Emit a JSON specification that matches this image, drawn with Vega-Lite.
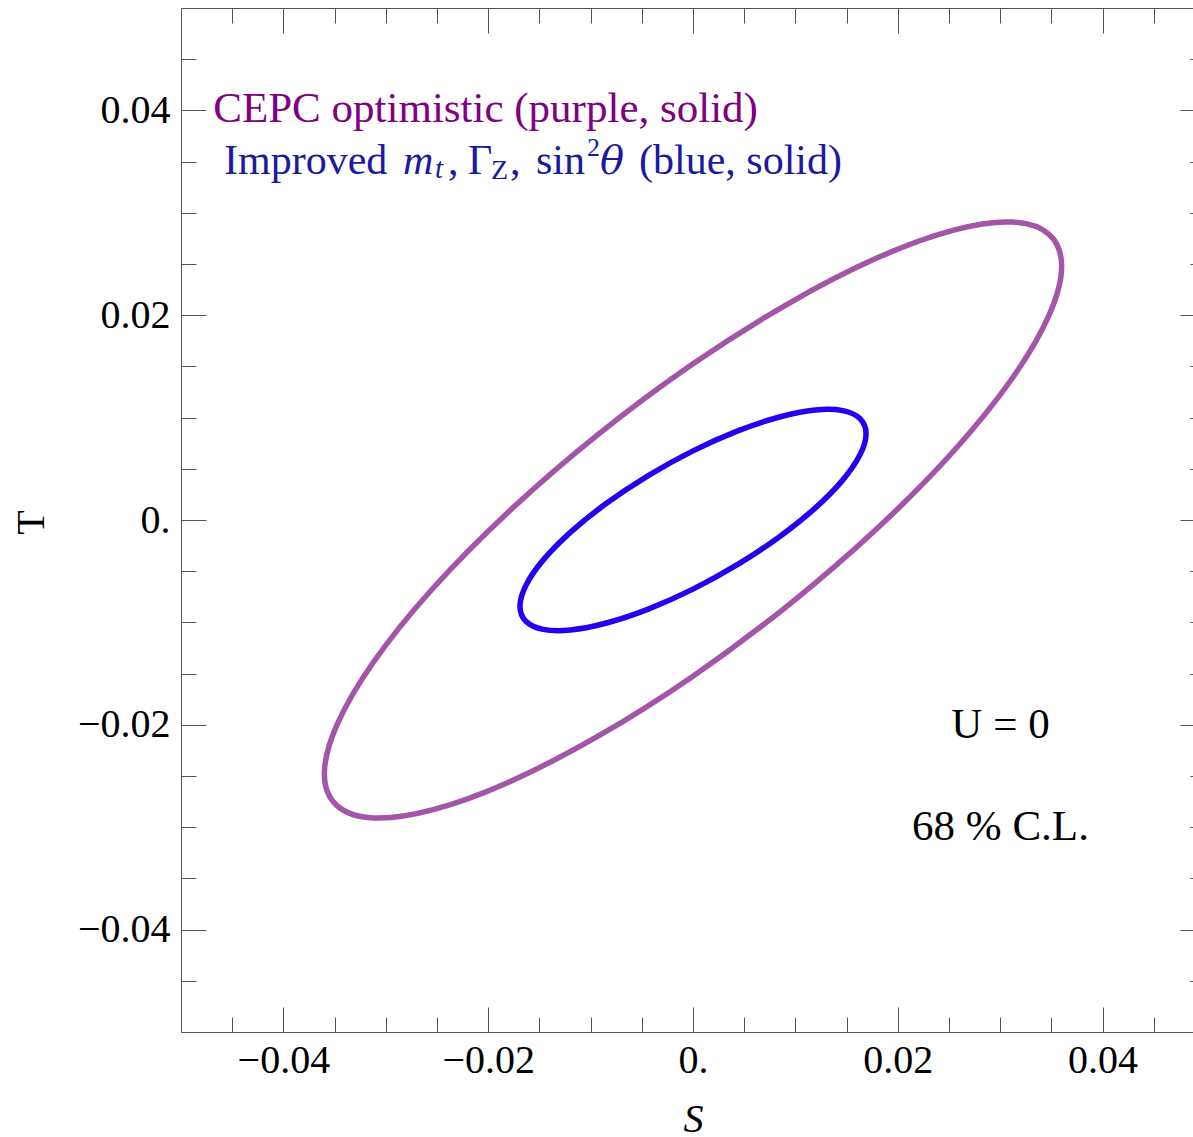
{
  "$schema": "https://vega.github.io/schema/vega-lite/v6.json",
  "width": 1012,
  "height": 1024,
  "autosize": {"type": "none"},
  "padding": {"left": 181, "top": 8, "right": 0, "bottom": 105},
  "background": "white",
  "config": {"view": {"stroke": null}, "font": "Liberation Serif"},
  "datasets": {
    "ellipses": [
      {"curve": "CEPC", "i": 0, "S": 0.036, "T": 0.02478},
      {"curve": "CEPC", "i": 1, "S": 0.03477, "T": 0.02789},
      {"curve": "CEPC", "i": 2, "S": 0.03118, "T": 0.02909},
      {"curve": "CEPC", "i": 3, "S": 0.02546, "T": 0.02831},
      {"curve": "CEPC", "i": 4, "S": 0.018, "T": 0.0256},
      {"curve": "CEPC", "i": 5, "S": 0.00932, "T": 0.02114},
      {"curve": "CEPC", "i": 6, "S": 0, "T": 0.01525},
      {"curve": "CEPC", "i": 7, "S": -0.00932, "T": 0.00831},
      {"curve": "CEPC", "i": 8, "S": -0.018, "T": 0.00081},
      {"curve": "CEPC", "i": 9, "S": -0.02546, "T": -0.00674},
      {"curve": "CEPC", "i": 10, "S": -0.03118, "T": -0.01384},
      {"curve": "CEPC", "i": 11, "S": -0.03477, "T": -0.02},
      {"curve": "CEPC", "i": 12, "S": -0.036, "T": -0.02478},
      {"curve": "CEPC", "i": 13, "S": -0.03477, "T": -0.02789},
      {"curve": "CEPC", "i": 14, "S": -0.03118, "T": -0.02909},
      {"curve": "CEPC", "i": 15, "S": -0.02546, "T": -0.02831},
      {"curve": "CEPC", "i": 16, "S": -0.018, "T": -0.0256},
      {"curve": "CEPC", "i": 17, "S": -0.00932, "T": -0.02114},
      {"curve": "CEPC", "i": 18, "S": 0, "T": -0.01525},
      {"curve": "CEPC", "i": 19, "S": 0.00932, "T": -0.00831},
      {"curve": "CEPC", "i": 20, "S": 0.018, "T": -0.00081},
      {"curve": "CEPC", "i": 21, "S": 0.02546, "T": 0.00674},
      {"curve": "CEPC", "i": 22, "S": 0.03118, "T": 0.01384},
      {"curve": "CEPC", "i": 23, "S": 0.03477, "T": 0.02},
      {"curve": "Improved", "i": 0, "S": 0.0169, "T": 0.00843},
      {"curve": "Improved", "i": 1, "S": 0.01632, "T": 0.00989},
      {"curve": "Improved", "i": 2, "S": 0.01464, "T": 0.01068},
      {"curve": "Improved", "i": 3, "S": 0.01195, "T": 0.01074},
      {"curve": "Improved", "i": 4, "S": 0.00845, "T": 0.01006},
      {"curve": "Improved", "i": 5, "S": 0.00437, "T": 0.0087},
      {"curve": "Improved", "i": 6, "S": 0, "T": 0.00675},
      {"curve": "Improved", "i": 7, "S": -0.00437, "T": 0.00434},
      {"curve": "Improved", "i": 8, "S": -0.00845, "T": 0.00163},
      {"curve": "Improved", "i": 9, "S": -0.01195, "T": -0.00118},
      {"curve": "Improved", "i": 10, "S": -0.01464, "T": -0.00392},
      {"curve": "Improved", "i": 11, "S": -0.01632, "T": -0.00639},
      {"curve": "Improved", "i": 12, "S": -0.0169, "T": -0.00843},
      {"curve": "Improved", "i": 13, "S": -0.01632, "T": -0.00989},
      {"curve": "Improved", "i": 14, "S": -0.01464, "T": -0.01068},
      {"curve": "Improved", "i": 15, "S": -0.01195, "T": -0.01074},
      {"curve": "Improved", "i": 16, "S": -0.00845, "T": -0.01006},
      {"curve": "Improved", "i": 17, "S": -0.00437, "T": -0.0087},
      {"curve": "Improved", "i": 18, "S": 0, "T": -0.00675},
      {"curve": "Improved", "i": 19, "S": 0.00437, "T": -0.00434},
      {"curve": "Improved", "i": 20, "S": 0.00845, "T": -0.00163},
      {"curve": "Improved", "i": 21, "S": 0.01195, "T": 0.00118},
      {"curve": "Improved", "i": 22, "S": 0.01464, "T": 0.00392},
      {"curve": "Improved", "i": 23, "S": 0.01632, "T": 0.00639}
    ],
    "notes": [
      {"id": "cepc", "text": "CEPC optimistic (purple, solid)", "S": -0.04685, "T": 0.0389},
      {"id": "improved", "text": "Improved", "S": -0.0458, "T": 0.0338},
      {"id": "m", "text": "m", "S": -0.0458, "T": 0.0338},
      {"id": "t", "text": "t", "S": -0.0458, "T": 0.0338},
      {"id": "comma1", "text": ",", "S": -0.0458, "T": 0.0338},
      {"id": "gamma", "text": "Γ", "S": -0.0458, "T": 0.0338},
      {"id": "Z", "text": "Z", "S": -0.0458, "T": 0.0338},
      {"id": "comma2", "text": ",", "S": -0.0458, "T": 0.0338},
      {"id": "sin", "text": "sin", "S": -0.0458, "T": 0.0338},
      {"id": "two", "text": "2", "S": -0.0458, "T": 0.0338},
      {"id": "theta", "text": "θ", "S": -0.0458, "T": 0.0338},
      {"id": "blue", "text": "(blue, solid)", "S": -0.0458, "T": 0.0338},
      {"id": "u", "text": "U = 0", "S": 0.03003, "T": -0.02132},
      {"id": "cl", "text": "68 % C.L.", "S": 0.03003, "T": -0.03125}
    ]
  },
  "layer": [
    {
      "data": {"name": "ellipses"},
      "transform": [{"filter": "datum.curve == 'CEPC'"}],
      "mark": {"type": "line", "interpolate": "cardinal-closed", "color": "#a355a8", "strokeWidth": 5.5, "strokeCap": "round", "strokeJoin": "round"},
      "encoding": {
        "x": {
          "field": "S", "type": "quantitative",
          "scale": {"domain": [-0.05, 0.048828], "nice": false, "zero": false},
          "axis": {
            "orient": "bottom", "grid": false,
            "values": [-0.045, -0.04, -0.035, -0.03, -0.025, -0.02, -0.015, -0.01, -0.005, 0, 0.005, 0.01, 0.015, 0.02, 0.025, 0.03, 0.035, 0.04, 0.045],
            "tickSize": {"condition": {"test": "abs(round(datum.value*1000)) % 20 == 0", "value": -25}, "value": -15},
            "tickColor": "#555555", "tickWidth": 1, "domainColor": "#555555", "domainWidth": 1,
            "labelExpr": "abs(round(datum.value*1000)) % 20 == 0 ? (datum.value == 0 ? '0.' : format(datum.value, '.2f')) : ''",
            "labelFont": "Liberation Serif", "labelFontSize": 40, "labelColor": "black", "labelPadding": 33,
            "labelFlush": false, "labelOverlap": false, "labelBound": false,
            "title": "S", "titleFont": "Liberation Serif", "titleFontSize": 40, "titleFontStyle": "italic", "titleFontWeight": "normal", "titleColor": "black",
            "titleX": 512, "titleY": 99, "titleBaseline": "alphabetic", "titleAlign": "center"
          }
        },
        "y": {
          "field": "T", "type": "quantitative",
          "scale": {"domain": [-0.05, 0.05], "nice": false, "zero": false},
          "axis": {
            "orient": "left", "grid": false,
            "values": [-0.045, -0.04, -0.035, -0.03, -0.025, -0.02, -0.015, -0.01, -0.005, 0, 0.005, 0.01, 0.015, 0.02, 0.025, 0.03, 0.035, 0.04, 0.045],
            "tickSize": {"condition": {"test": "abs(round(datum.value*1000)) % 20 == 0", "value": -25}, "value": -15},
            "tickColor": "#555555", "tickWidth": 1, "domainColor": "#555555", "domainWidth": 1,
            "labelExpr": "abs(round(datum.value*1000)) % 20 == 0 ? (datum.value == 0 ? '0.' : format(datum.value, '.2f')) : ''",
            "labelFont": "Liberation Serif", "labelFontSize": 40, "labelColor": "black", "labelPadding": 36,
            "labelFlush": false, "labelOverlap": false, "labelBound": false,
            "title": "T", "titleFont": "Liberation Serif", "titleFontSize": 40, "titleFontWeight": "normal", "titleColor": "black",
            "titleAngle": -90, "titleX": -138, "titleY": 514, "titleBaseline": "alphabetic", "titleAlign": "center"
          }
        },
        "order": {"field": "i", "type": "quantitative"}
      }
    },
    {
      "data": {"name": "ellipses"},
      "transform": [{"filter": "datum.curve == 'Improved'"}],
      "mark": {"type": "line", "interpolate": "cardinal-closed", "color": "#2200f2", "strokeWidth": 5.5, "strokeCap": "round", "strokeJoin": "round"},
      "encoding": {
        "x": {
          "field": "S", "type": "quantitative",
          "scale": {"domain": [-0.05, 0.048828], "nice": false, "zero": false},
          "axis": {
            "orient": "top", "grid": false, "labels": false, "title": null,
            "values": [-0.045, -0.04, -0.035, -0.03, -0.025, -0.02, -0.015, -0.01, -0.005, 0, 0.005, 0.01, 0.015, 0.02, 0.025, 0.03, 0.035, 0.04, 0.045],
            "tickSize": {"condition": {"test": "abs(round(datum.value*1000)) % 20 == 0", "value": -25}, "value": -15},
            "tickColor": "#555555", "tickWidth": 1, "domainColor": "#555555", "domainWidth": 1
          }
        },
        "y": {
          "field": "T", "type": "quantitative",
          "scale": {"domain": [-0.05, 0.05], "nice": false, "zero": false},
          "axis": {
            "orient": "right", "offset": 12, "grid": false, "labels": false, "title": null, "domain": false,
            "values": [-0.045, -0.04, -0.035, -0.03, -0.025, -0.02, -0.015, -0.01, -0.005, 0, 0.005, 0.01, 0.015, 0.02, 0.025, 0.03, 0.035, 0.04, 0.045],
            "tickSize": {"condition": {"test": "abs(round(datum.value*1000)) % 20 == 0", "value": -25}, "value": -15},
            "tickColor": "#555555", "tickWidth": 1
          }
        },
        "order": {"field": "i", "type": "quantitative"}
      }
    },
    {
      "data": {"name": "notes"},
      "encoding": {
        "x": {"field": "S", "type": "quantitative", "scale": {"domain": [-0.05, 0.048828], "nice": false, "zero": false}, "axis": null},
        "y": {"field": "T", "type": "quantitative", "scale": {"domain": [-0.05, 0.05], "nice": false, "zero": false}, "axis": null},
        "text": {"field": "text"}
      },
      "layer": [
        {"transform": [{"filter": "datum.id == 'cepc'"}], "mark": {"type": "text", "align": "left", "baseline": "alphabetic", "font": "Liberation Serif", "fontSize": 43, "color": "#800080"}},
        {"transform": [{"filter": "datum.id == 'improved'"}], "mark": {"type": "text", "align": "left", "baseline": "alphabetic", "font": "Liberation Serif", "fontSize": 42, "color": "#1a1aa0"}},
        {"transform": [{"filter": "datum.id == 'm'"}], "mark": {"type": "text", "align": "left", "baseline": "alphabetic", "font": "Liberation Serif", "fontStyle": "italic", "fontSize": 42, "color": "#1a1aa0", "dx": 179}},
        {"transform": [{"filter": "datum.id == 't'"}], "mark": {"type": "text", "align": "left", "baseline": "alphabetic", "font": "Liberation Serif", "fontStyle": "italic", "fontSize": 29, "color": "#1a1aa0", "dx": 211, "dy": 4}},
        {"transform": [{"filter": "datum.id == 'comma1'"}], "mark": {"type": "text", "align": "left", "baseline": "alphabetic", "font": "Liberation Serif", "fontSize": 42, "color": "#1a1aa0", "dx": 224}},
        {"transform": [{"filter": "datum.id == 'gamma'"}], "mark": {"type": "text", "align": "left", "baseline": "alphabetic", "font": "Liberation Serif", "fontSize": 42, "color": "#1a1aa0", "dx": 244}},
        {"transform": [{"filter": "datum.id == 'Z'"}], "mark": {"type": "text", "align": "left", "baseline": "alphabetic", "font": "Liberation Serif", "fontSize": 28, "color": "#1a1aa0", "dx": 267, "dy": 5}},
        {"transform": [{"filter": "datum.id == 'comma2'"}], "mark": {"type": "text", "align": "left", "baseline": "alphabetic", "font": "Liberation Serif", "fontSize": 42, "color": "#1a1aa0", "dx": 286}},
        {"transform": [{"filter": "datum.id == 'sin'"}], "mark": {"type": "text", "align": "left", "baseline": "alphabetic", "font": "Liberation Serif", "fontSize": 42, "color": "#1a1aa0", "dx": 312}},
        {"transform": [{"filter": "datum.id == 'two'"}], "mark": {"type": "text", "align": "left", "baseline": "alphabetic", "font": "Liberation Serif", "fontSize": 26, "color": "#1a1aa0", "dx": 363, "dy": -18}},
        {"transform": [{"filter": "datum.id == 'theta'"}], "mark": {"type": "text", "align": "left", "baseline": "alphabetic", "font": "DejaVu Serif", "fontStyle": "italic", "fontSize": 40, "color": "#1a1aa0", "dx": 376}},
        {"transform": [{"filter": "datum.id == 'blue'"}], "mark": {"type": "text", "align": "left", "baseline": "alphabetic", "font": "Liberation Serif", "fontSize": 42, "color": "#1a1aa0", "dx": 415}},
        {"transform": [{"filter": "datum.id == 'u' || datum.id == 'cl'"}], "mark": {"type": "text", "align": "center", "baseline": "alphabetic", "font": "Liberation Serif", "fontSize": 43, "color": "black"}}
      ]
    }
  ],
  "resolve": {"axis": {"x": "independent", "y": "independent"}}
}
